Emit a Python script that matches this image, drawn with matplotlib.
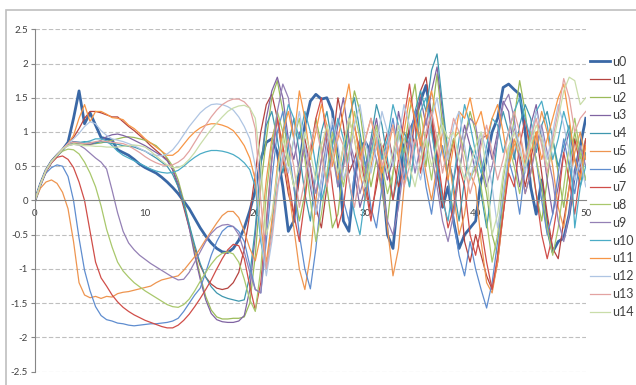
import matplotlib.pyplot as plt
import numpy as np

plt.rcParams.update({"font.family": ["Lato", "DejaVu Sans"], "font.size": 7})

# x positions: 0 .. 50 in steps of 0.5
x = np.arange(0, 50.5, 0.5)

# each series: x = 0..20 (41 values), then x = 20.5..50 (60 values, rows of 5 units)
u0 = [0, 0.24, 0.44, 0.57, 0.66, 0.74, 0.85, 1.2, 1.6, 1.12,
      1.28, 1.1, 0.92, 0.9, 0.88, 0.74, 0.7, 0.66, 0.6, 0.53,
      0.48, 0.44, 0.4, 0.34, 0.27, 0.19, 0.1, -0.01, -0.12, -0.26,
      -0.4, -0.52, -0.62, -0.7, -0.75, -0.76, -0.7, -0.58, -0.4, -0.15, 0.15,
      0.6, 0.85, 0.9, 0.7, 0.2, -0.45, -0.3, 0.5, 1.1, 1.45,
      1.55, 1.48, 1.5, 1.3, 0.6, -0.3, -0.45, 0.3, 0.8, 0.85,
      0.7, 0.9, 0.4, -0.5, -0.7, 0.1, 0.8, 1.0, 1.2, 1.45,
      1.68, 1.2, 0.5, -0.1, 0.2, -0.3, -0.7, -0.5, -0.4, -0.3,
      0.3, 0.6, 1.0, 1.2, 1.65, 1.7, 1.62, 1.55, 1.0, 0.2,
      -0.2, 0.3, -0.4, -0.75, -0.6, -0.55, -0.2, 0.4, 0.8, 1.2]
u1 = [0, 0.24, 0.44, 0.57, 0.66, 0.75, 0.83, 0.92, 1.05, 1.2,
      1.3, 1.3, 1.28, 1.25, 1.22, 1.22, 1.15, 1.08, 1.02, 0.95,
      0.88, 0.8, 0.73, 0.66, 0.6, 0.45, 0.2, -0.1, -0.4, -0.7,
      -0.95, -1.12, -1.22, -1.28, -1.3, -1.28, -1.2, -1.05, -0.7, -0.2, 0.4,
      1.0, 1.4, 1.55, 1.2, 0.6, 0.1, -0.2, 0.3, 0.9, 0.5,
      -0.1, -0.4, 0.2, 0.8, 1.5, 1.1, 0.4, 0.6, 0.9, 0.3,
      -0.2, 0.2, 0.7, 1.0, 0.6, 0.2, 0.5, 1.1, 0.8, 1.6,
      1.8, 1.2, 0.4, -0.1, 0.5, 0.9, 0.3, -0.6, -0.9, -0.5,
      -0.8, -1.1, -1.3, -0.9, -0.2, 0.5, 1.1, 0.7, 0.2, 0.6,
      1.0, 0.4, -0.2, -0.7, -0.85, -0.3, 0.2, 0.9, 0.5, 0.8]
u2 = [0, 0.24, 0.44, 0.57, 0.66, 0.75, 0.82, 0.84, 0.83, 0.82,
      0.82, 0.83, 0.84, 0.86, 0.88, 0.9, 0.92, 0.93, 0.92, 0.9,
      0.88, 0.84, 0.8, 0.72, 0.62, 0.5, 0.3, 0.0, -0.35, -0.75,
      -1.1, -1.4, -1.6, -1.7, -1.73, -1.73, -1.72, -1.72, -1.7, -1.5, -0.8,
      0.2, 0.9, 1.5, 1.75, 1.3, 0.6, 0.2, -0.3, 0.1, 0.7,
      1.2, 0.8, 0.2, -0.4, -0.2, 0.5, 1.1, 1.6, 1.3, 0.7,
      0.2, 0.6, 0.1, -0.3, 0.4, 1.0, 0.7, 1.3, 1.7, 1.0,
      0.5, 1.2, 1.85, 1.1, 0.3, -0.2, 0.4, 0.9, 1.3, 1.0,
      0.5, 0.1, -0.5, -0.8, 0.0, 0.6, 1.2, 1.75, 1.3, 0.6,
      0.1, -0.3, 0.3, 0.9, 0.4, -0.1, 0.5, 1.0, 0.6, 0.9]
u3 = [0, 0.24, 0.44, 0.57, 0.66, 0.75, 0.83, 0.86, 0.85, 0.83,
      0.82, 0.84, 0.88, 0.93, 0.96, 0.97, 0.95, 0.92, 0.88, 0.84,
      0.8, 0.75, 0.7, 0.65, 0.58, 0.45, 0.25, -0.05, -0.4, -0.8,
      -1.15, -1.45, -1.65, -1.74, -1.77, -1.78, -1.78, -1.76, -1.68, -1.3, -0.5,
      0.5, 1.2, 1.6, 1.8, 1.5, 0.9, 0.6, 1.0, 0.7, 0.2,
      -0.2, 0.3, 0.9, 0.6, 1.1, 1.5, 0.9, 0.4, -0.1, 0.2,
      0.8, 1.2, 0.7, 0.3, 0.6, 1.3, 0.9, 0.5, 1.2, 1.5,
      1.1, 1.6, 1.95, 1.3, 0.6, 0.3, 0.7, 1.1, 0.8, 0.4,
      0.9, 0.95, 0.6, 1.0, 1.45, 1.3, 0.7, 0.2, 0.5, 1.1,
      1.4, 0.9, 0.3, -0.2, 0.2, 0.7, 1.0, 0.6, 0.4, 0.9]
u4 = [0, 0.24, 0.44, 0.57, 0.66, 0.75, 0.83, 0.85, 0.84, 0.86,
      0.85, 0.84, 0.86, 0.85, 0.83, 0.82, 0.8, 0.79, 0.78, 0.75,
      0.72, 0.67, 0.62, 0.56, 0.5, 0.38, 0.2, -0.05, -0.35, -0.65,
      -0.92, -1.12, -1.26, -1.35, -1.4, -1.43, -1.45, -1.47, -1.45, -1.1, -0.4,
      0.5, 1.1, 1.3, 0.9, 0.4, 0.8, 1.2, 0.7, 0.1, -0.3,
      0.4, 1.0, 1.3, 0.8, 0.2, 0.6, 1.2, 1.5, 1.0, 0.5,
      0.9, 1.4, 1.1, 0.6, 0.0, 0.4, 1.0, 0.8, 1.3, 1.6,
      1.3, 1.9, 2.14, 1.4, 0.7, 0.2, -0.3, 0.3, 0.8, 0.6,
      0.1, -0.4, 0.2, 0.9, 1.3, 1.0, 0.6, 1.1, 1.4, 1.2,
      0.7, 1.1, 1.3, 0.9, 0.5, 0.8, 1.1, 0.6, 0.2, 0.7]
u5 = [0, 0.18, 0.27, 0.3, 0.25, 0.12, -0.12, -0.6, -1.2, -1.38,
      -1.42, -1.4, -1.43, -1.4, -1.41, -1.36, -1.34, -1.33, -1.31, -1.29,
      -1.27, -1.25, -1.2, -1.16, -1.14, -1.12, -1.1, -1.02, -0.92, -0.82,
      -0.7, -0.57, -0.45, -0.33, -0.22, -0.16, -0.16, -0.25, -0.45, -0.7, -0.88,
      -0.5, 0.3, 0.9, 1.2, 0.7, 0.2, -0.4, -1.0, -1.3, -0.8,
      0.0, 0.6, 1.1, 0.7, 0.3, 0.8, 1.2, 0.9, 0.4, 0.0,
      0.5, 0.9, 0.3, -0.4, -1.1, -0.7, 0.2, 0.8, 1.2, 0.9,
      0.4, 0.0, 0.5, 1.0, 0.7, 0.1, -0.5, -0.2, 0.4, 0.2,
      -0.6, -1.2, -1.35, -0.9, -0.2, 0.5, 0.9, 0.6, 0.1, 0.4,
      0.9, 1.3, 1.0, 0.5, -0.1, -0.4, 0.2, 0.7, 1.0, 0.6]
u6 = [0, 0.25, 0.4, 0.48, 0.52, 0.5, 0.35, 0.0, -0.55, -1.02,
      -1.32, -1.55, -1.68, -1.74, -1.76, -1.79, -1.8, -1.82, -1.83, -1.82,
      -1.81, -1.8, -1.8, -1.79, -1.78, -1.76, -1.72, -1.62, -1.5, -1.38,
      -1.28, -1.05, -0.8, -0.6, -0.45, -0.38, -0.38, -0.45, -0.6, -0.95, -1.3,
      -1.35, -0.6, 0.3, 1.0, 1.3, 0.8, 0.2, -0.5, -1.0, -1.29,
      -0.7, 0.1, 0.7, 1.1, 0.6, 0.0, -0.3, 0.4, 0.9, 0.5,
      -0.1, -0.4, 0.2, 0.8, 1.2, 0.7, 0.3, 0.9, 1.3, 0.8,
      0.2, -0.2, 0.4, 0.8, 0.3, -0.3, -0.8, -1.1, -0.6, -1.0,
      -1.3, -1.57, -1.2, -0.6, 0.1, 0.6, 0.3, -0.2, 0.5, 1.0,
      0.6, 0.0, -0.5, -0.2, 0.4, 0.9, 0.5, 0.1, 0.6, 0.3]
u7 = [0, 0.23, 0.42, 0.55, 0.63, 0.65, 0.6, 0.48, 0.27, 0.0,
      -0.45, -0.9, -1.13, -1.25, -1.38, -1.48, -1.56, -1.62, -1.67, -1.71,
      -1.75, -1.78, -1.81, -1.84, -1.86, -1.86, -1.82, -1.75, -1.66, -1.55,
      -1.43, -1.3, -1.16, -1.0, -0.85, -0.72, -0.64, -0.66, -0.85, -1.25, -1.6,
      -1.2, -0.3, 0.6, 1.2, 0.8, 0.3, -0.2, -0.6, 0.0, 0.7,
      1.2, 1.5, 0.9, 0.2, -0.4, -0.1, 0.6, 1.1, 0.7, 0.2,
      -0.3, 0.3, 0.8, 0.5, 0.0, 0.6, 1.2, 1.7, 1.1, 0.4,
      0.9, 1.3, 0.7, 0.1, -0.4, -0.1, 0.5, 0.2, -0.5, -0.8,
      -0.4, -0.9, -1.3, -0.8, -0.2, 0.4, 0.2, 0.8, 1.2, 0.7,
      0.1, -0.5, -0.85, -0.5, 0.0, 0.7, 0.3, -0.2, 0.4, 0.9]
u8 = [0, 0.24, 0.44, 0.57, 0.66, 0.72, 0.75, 0.74, 0.68, 0.56,
      0.4, 0.2, -0.08, -0.42, -0.68, -0.9, -1.03, -1.12, -1.2, -1.26,
      -1.32, -1.37, -1.42, -1.47, -1.52, -1.55, -1.56, -1.52, -1.44, -1.32,
      -1.18, -1.05, -0.93, -0.83, -0.77, -0.75, -0.78, -0.9, -1.15, -1.45, -1.62,
      -1.0, 0.1, 0.8, 1.3, 1.0, 0.5, 0.9, 1.2, 0.6, 0.0,
      -0.6, -0.2, 0.4, 1.0, 0.6, 0.2, 0.7, 1.3, 0.9, 0.3,
      0.7, 1.1, 0.5, 0.1, 0.4, 1.0, 0.6, 0.2, 0.8, 1.3,
      0.8, 0.3, 0.9, 1.2, 0.6, 0.9, 1.0, 0.7, 0.3, 0.5,
      0.2, -0.3, -0.9, -0.5, 0.3, 0.8, 0.5, 0.1, 0.6, 1.0,
      0.6, 0.2, -0.4, -0.8, -0.4, 0.2, 0.8, 1.2, 0.7, 0.3]
u9 = [0, 0.24, 0.44, 0.57, 0.67, 0.75, 0.8, 0.82, 0.81, 0.76,
      0.69, 0.62, 0.56, 0.46, 0.15, -0.18, -0.45, -0.62, -0.72, -0.8,
      -0.86, -0.92, -0.97, -1.02, -1.07, -1.12, -1.16, -1.15, -1.05, -0.9,
      -0.75, -0.6, -0.48, -0.4, -0.36, -0.35, -0.38, -0.5, -0.75, -1.05, -1.3,
      -1.35, -0.4, 0.6, 1.3, 1.7, 1.5, 0.9, 0.4, 0.8, 0.5,
      0.1, 0.6, 1.0, 0.7, 0.2, 0.5, 0.9, 0.6, 0.1, 0.4,
      0.9, 0.6, 0.2, -0.3, -0.5, -0.1, 0.5, 0.9, 0.4, 0.8,
      1.2, 0.7, 0.2, -0.3, -0.6, -0.2, 0.4, 0.9, 1.2, 1.1,
      0.6, 0.2, 0.5, 0.9, 1.4, 1.55, 1.2, 0.6, 0.1, 0.4,
      0.8, 1.1, 0.7, 0.3, -0.3, -0.6, -0.2, 0.4, 0.8, 0.5]
u10 = [0, 0.24, 0.44, 0.57, 0.66, 0.75, 0.83, 0.85, 0.85, 0.85,
       0.87, 0.9, 0.9, 0.87, 0.8, 0.72, 0.66, 0.62, 0.58, 0.54,
       0.5, 0.46, 0.43, 0.41, 0.4, 0.41, 0.44, 0.5, 0.57, 0.63,
       0.68, 0.71, 0.73, 0.73, 0.72, 0.7, 0.67, 0.62, 0.55, 0.45, 0.2,
       -0.6, -1.0, -0.4, 0.4, 1.0, 1.4, 1.2, 0.9, 1.3, 1.0,
       0.5, 0.0, 0.3, 0.8, 1.2, 0.9, 0.3, -0.2, -0.5, 0.1,
       0.7, 1.0, 0.6, 0.9, 1.4, 1.1, 0.6, 0.2, 0.8, 1.3,
       1.5, 1.0, 0.5, 0.0, -0.3, 0.3, 0.9, 1.4, 1.1, 0.7,
       0.4, 0.8, 1.2, 1.1, 0.7, 1.0, 1.3, 1.5, 1.2, 0.9,
       1.3, 1.45, 1.1, 0.6, 0.9, 1.3, 1.0, -0.4, 0.2, 0.5]
u11 = [0, 0.24, 0.44, 0.57, 0.66, 0.75, 0.83, 0.95, 1.2, 1.4,
       1.15, 1.3, 1.3, 1.26, 1.21, 1.2, 1.18, 1.1, 1.05, 0.98,
       0.9, 0.84, 0.78, 0.72, 0.66, 0.66, 0.72, 0.82, 0.92, 1.0,
       1.06, 1.1, 1.12, 1.12, 1.1, 1.07, 1.02, 0.92, 0.8, 0.62, 0.3,
       -0.4, -0.9, -0.3, 0.5, 1.0, 1.3, 0.9, 1.6, 1.2, 0.6,
       1.0, 1.4, 1.1, 0.5, 0.9, 1.3, 1.7, 1.1, 0.6, 0.9,
       1.2, 0.8, 0.4, 0.7, 1.1, 0.6, 1.0, 1.5, 1.2, 0.8,
       1.3, 1.6, 1.2, 0.7, 0.3, 0.8, 1.3, 1.2, 1.5, 1.1,
       1.3, 0.9, 1.2, 1.4, 1.0, 0.5, 0.8, 1.0, 0.5, 0.7,
       1.0, 0.6, 0.9, 1.2, 1.5, 1.7, 1.2, 0.6, 0.3, 0.8]
u12 = [0, 0.24, 0.44, 0.57, 0.66, 0.75, 0.83, 0.9, 0.98, 1.08,
       1.15, 1.12, 1.02, 0.95, 0.9, 0.88, 0.86, 0.83, 0.8, 0.76,
       0.72, 0.68, 0.66, 0.65, 0.68, 0.74, 0.84, 0.96, 1.08, 1.18,
       1.28, 1.35, 1.4, 1.41, 1.4, 1.37, 1.32, 1.22, 1.08, 0.9, 0.5,
       -0.5, -1.1, -0.6, 0.1, 0.7, 0.4, 0.9, 1.3, 0.8, 0.3,
       -0.2, 0.3, 0.8, 1.2, 0.8, 0.3, 0.6, 1.1, 1.4, 0.9,
       0.4, 0.8, 1.3, 1.0, 0.5, 0.9, 1.4, 1.1, 0.6, 0.3,
       0.7, 1.2, 1.5, 1.0, 0.6, 1.1, 1.3, 0.8, 0.3, 0.6,
       1.0, 0.7, 0.2, -0.4, 0.1, 0.7, 1.1, 0.8, 0.4, 0.9,
       1.3, 1.0, 0.6, 1.0, 1.4, 1.1, 0.7, 0.3, 0.6, 0.2]
u13 = [0, 0.24, 0.44, 0.57, 0.66, 0.75, 0.83, 0.85, 0.84, 0.83,
       0.84, 0.86, 0.87, 0.86, 0.85, 0.84, 0.83, 0.8, 0.75, 0.7,
       0.64, 0.59, 0.55, 0.52, 0.51, 0.52, 0.56, 0.62, 0.72, 0.85,
       0.98, 1.1, 1.22, 1.32, 1.4, 1.45, 1.48, 1.48, 1.44, 1.35, 1.05,
       0.0, -1.0, -0.5, 0.2, 0.6, 0.9, 0.5, -0.1, 0.3, 0.8,
       1.1, 0.7, 0.2, 0.6, 1.0, 0.8, 0.3, -0.1, 0.4, 0.9,
       1.2, 0.9, 0.5, 0.8, 1.1, 0.7, 0.2, 0.5, 0.9, 0.6,
       1.0, 1.3, 0.9, 0.4, 0.8, 1.2, 1.0, 0.5, 0.1, 0.4,
       0.8, 1.1, 0.7, 0.3, 0.6, 1.0, 1.3, 1.0, 0.6, 0.9,
       1.2, 0.8, 0.4, 0.9, 1.3, 1.78, 1.5, 1.0, 1.2, 1.3]
u14 = [0, 0.24, 0.44, 0.57, 0.66, 0.75, 0.8, 0.82, 0.81, 0.8,
       0.8, 0.79, 0.79, 0.78, 0.78, 0.78, 0.79, 0.8, 0.81, 0.8,
       0.78, 0.72, 0.65, 0.58, 0.52, 0.48, 0.48, 0.52, 0.6, 0.7,
       0.82, 0.93, 1.04, 1.13, 1.22, 1.3, 1.35, 1.38, 1.39, 1.35, 1.2,
       0.5, -0.5, -0.2, 0.4, 0.9, 0.6, 0.2, 0.5, 1.0, 0.7,
       0.3, 0.8, 1.1, 0.7, 0.4, 0.8, 1.2, 0.9, 0.5, 0.2,
       0.6, 1.0, 0.8, 0.4, 0.7, 1.1, 0.9, 0.5, 0.2, 0.6,
       0.9, 0.5, 0.8, 1.1, 0.9, 1.0, 0.6, 0.3, 0.5, 0.8,
       1.0, 0.4, -0.5, -0.2, 0.4, 0.8, 1.0, 0.7, 0.5, 0.8,
       1.1, 0.9, 0.5, 0.8, 1.2, 1.6, 1.8, 1.75, 1.4, 1.5]

series = [u0, u1, u2, u3, u4, u5, u6, u7, u8, u9, u10, u11, u12, u13, u14]
labels = ["u%d" % i for i in range(15)]
colors = ["#3A68A6", "#B5433F", "#9BBB59", "#8064A2", "#3E97AE",
          "#EE9550", "#5F8DCF", "#D04E49", "#A9C86C", "#9480B5",
          "#4BACC6", "#F79646", "#AFC5E3", "#E3A3A1", "#C9DDA9"]

fig = plt.figure(figsize=(6.36, 3.85), dpi=100)
ax = fig.add_axes([0.055, 0.0345, 0.866, 0.8895])

lines = []
for i, (s, c) in enumerate(zip(series, colors)):
    lw = 2.0 if i == 0 else 0.9
    (ln,) = ax.plot(x, s, color=c, lw=lw, label=labels[i])
    lines.append(ln)

ax.set_xlim(0, 50)
ax.set_ylim(-2.5, 2.5)
ax.set_yticks(np.arange(-2.5, 2.51, 0.5))
ax.set_yticklabels(["-2.5", "-2", "-1.5", "-1", "-0.5", "0", "0.5", "1", "1.5", "2", "2.5"])
ax.set_xticks([0, 10, 20, 30, 40, 50])

# dashed horizontal gridlines
for yv in [-2.5, -2, -1.5, -1, -0.5, 0.5, 1, 1.5, 2, 2.5]:
    ax.axhline(yv, color="#BFBFBF", lw=0.8, ls=(0, (4, 2)), zorder=0)

for side in ["top", "right"]:
    ax.spines[side].set_visible(False)
ax.spines["bottom"].set_position(("data", 0))
ax.spines["bottom"].set_color("#868686")
ax.spines["left"].set_color("#868686")
ax.tick_params(axis="y", length=3, color="#868686", pad=2, labelcolor="#404040")
ax.tick_params(axis="x", length=0, pad=6, labelcolor="#404040")

fig.legend(lines, labels, loc="upper left", bbox_to_anchor=(0.928, 0.855),
           frameon=False, fontsize=9, handlelength=1.6, handletextpad=0.15,
           labelspacing=0.47, borderpad=0, borderaxespad=0, labelcolor="#404040")

# chart-area border like the spreadsheet frame
fig.patches.append(plt.Rectangle((6 / 636, -0.05), 1.0, 1 - 10 / 385 + 0.05,
                                 transform=fig.transFigure, fill=False,
                                 edgecolor="#BFBFBF", lw=1.2))

fig.savefig("out.png", dpi=100)
